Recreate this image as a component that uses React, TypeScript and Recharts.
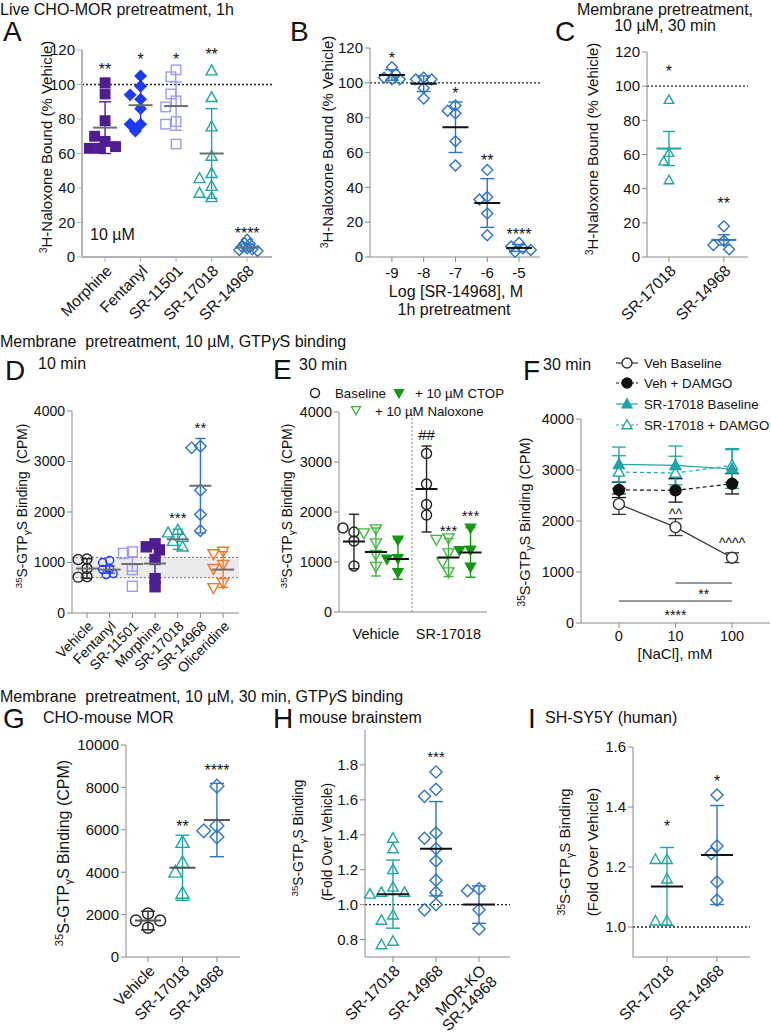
import React from 'react';
import { ComposedChart, Scatter, Line, XAxis, YAxis, ErrorBar, ReferenceLine, ReferenceArea } from 'recharts';

const FONT = '"Liberation Sans", Arial, Helvetica, sans-serif';

// ---------- data ----------
// A: live CHO-MOR, 1h, 10 µM
const aCats = ['Morphine', 'Fentanyl', 'SR-11501', 'SR-17018', 'SR-14968'];
const aVals = [
  [101, 94.5, 79, 67, 70, 63, 64, 63],
  [105, 99, 91.5, 94, 86, 77, 77, 73],
  [108.5, 104.5, 90.5, 94.5, 87, 78.5, 77, 65.5],
  [108, 92.5, 75.5, 58.5, 48.5, 45.5, 41, 37, 34.5],
  [10, 8, 7.5, 6, 5, 4.5, 4, 3.5],
];
const aMean = [75, 88, 87.5, 60, 5.5];
const aSD = [15, 11, 14, 26, 2];
const aStars = ['**', '*', '*', '**', '****'];
const aStarY = [111, 117, 117, 119.5, 16];

// B: SR-14968 concentration response, 1h
const bLogConc = [-9, -8, -7, -6, -5];
const bVals = [
  [109, 102, 103, 105, 102],
  [103, 102, 102, 97, 91],
  [87, 82.5, 84, 66.5, 52.5],
  [50, 34.5, 33, 25, 12.5],
  [8, 6, 5, 4, 3],
];
const bMean = [104.5, 99.5, 74.5, 31, 5.2];
const bSD = [3, 4.5, 14.5, 14, 2];
const bStars = ['*', '', '*', '**', '****'];
const bStarY = [116.5, 0, 96.5, 57.5, 15.5];

// C: membrane, 10 µM, 30 min
const cCats = ['SR-17018', 'SR-14968'];
const cVals = [
  [92, 61, 56, 45],
  [18, 9.5, 7, 4.5],
];
const cMean = [63.5, 10];
const cSEM = [10, 3];
const cStars = ['*', '**'];
const cStarY = [111, 34];

// D: GTPγS, 10 min
const dCats = ['Vehicle', 'Fentanyl', 'SR-11501', 'Morphine', 'SR-17018', 'SR-14968', 'Oliceridine'];
const dVals = [
  [1070, 1060, 880, 720, 710],
  [1040, 1000, 880, 860, 780, 760],
  [1210, 1180, 860, 530],
  [1370, 1310, 1250, 1060, 680, 520],
  [1640, 1590, 1500, 1420, 1310],
  [3300, 3270, 2430, 1950, 1630],
  [1220, 1170, 960, 880, 600, 500],
];
const dMean = [880, 860, 970, 980, 1460, 2520, 860];
const dSD = [195, 70, 140, 450, 200, 935, 355];
const dStars = ['', '', '', '', '***', '**', ''];
const dStarY = [0, 0, 0, 0, 1970, 3735, 0];

// E: GTPγS, 30 min, antagonists
const eGroups = ['Vehicle', 'SR-17018'];
const eBaseline = [[1600, 1680, 1420, 920], [3170, 2560, 2150, 1940]];
const eNaloxone = [[1660, 1580, 1380, 1150, 910], [1480, 1450, 1180, 1000, 800]];
const eCTOP = [[1440, 1070, 1060, 790], [1680, 1240, 1230, 900]];
const eBaselineMean = [1410, 2460];
const eBaselineSD = [545, 860];
const eNaloxoneMean = [1200, 1090];
const eNaloxoneSD = [480, 380];
const eCTOPMean = [1060, 1190];
const eCTOPSD = [405, 495];

// F: NaCl dependence
const fNaCl = ['0', '10', '100'];
const fVehBase = [2330, 1880, 1280];
const fVehBaseErr = [200, 165, 95];
const fVehDamgo = [2610, 2600, 2730];
const fVehDamgoErr = [150, 230, 200];
const fSrBase = [3110, 3090, 3020];
const fSrBaseErr = [340, 380, 380];
const fSrDamgo = [2960, 2940, 3090];
const fSrDamgoErr = [320, 330, 330];

// G: CHO-mouse MOR
const gCats = ['Vehicle', 'SR-17018', 'SR-14968'];
const gVals = [
  [2050, 1720, 1720, 1380],
  [5400, 4450, 4000, 3000],
  [8060, 6190, 5950, 5670],
];
const gMean = [1720, 4210, 6460];
const gSD = [440, 1535, 1730];
const gStars = ['', '**', '****'];
const gStarY = [0, 6350, 9000];

// H: mouse brainstem
const hCats = ['SR-17018', 'SR-14968', 'MOR-KO SR-14968'];
const hVals = [
  [1.38, 1.32, 1.2, 1.1, 1.07, 1.07, 1.06, 0.94, 0.91, 0.79, 0.77],
  [1.76, 1.66, 1.62, 1.41, 1.38, 1.32, 1.25, 1.14, 1.07, 1.0, 0.97],
  [1.09, 1.08, 0.97, 0.86],
];
const hMean = [1.06, 1.32, 1.0];
const hSD = [0.195, 0.27, 0.107];

// I: SH-SY5Y (human)
const iCats = ['SR-17018', 'SR-14968'];
const iVals = [
  [1.225, 1.225, 1.16, 1.02, 1.02],
  [1.44, 1.27, 1.245, 1.15, 1.09],
];
const iMean = [1.135, 1.24];
const iSD = [0.13, 0.165];
const iStarY = [1.35, 1.5];

// ---------- colours ----------
const PURPLE = '#4f1d91';
const BLUE = '#1c3cf2';
const LAVENDER = '#9b9bf0';
const TEAL = '#1fa5a5';
const STEEL = '#2d74c2';
const ORANGE = '#ff7420';
const GREEN = '#119a11';
const LGREEN = '#3db83d';
const INK = '#111';

type Kind = 'square' | 'diamond' | 'tri' | 'itri' | 'circle';
type Box = { x0: number; x1: number; yTop: number; yBot: number; xDomain: [number, number]; yDomain: [number, number] };
type Group = {
  cat: number; vals: number[]; mean: number; err: number; kind: Kind; color: string;
  open?: boolean; size?: number; meanColor?: string; meanHalf?: number; capHalf?: number; spread?: number;
};
type Note = { x: number; y: number; t: string };

function Marker({ cx, cy, kind, color, open, size, solidFill }: any) {
  const s = size / 2;
  const p = { stroke: color, strokeWidth: 1.4, fill: open ? (solidFill ? '#fff' : 'none') : color };
  if (kind === 'square') return <rect x={cx - s} y={cy - s} width={size} height={size} {...p} />;
  if (kind === 'circle') return <circle cx={cx} cy={cy} r={s} {...p} />;
  if (kind === 'diamond') {
    const d = s * 1.15;
    return <polygon points={`${cx},${cy - d} ${cx + d},${cy} ${cx},${cy + d} ${cx - d},${cy}`} {...p} />;
  }
  if (kind === 'tri') return <polygon points={`${cx},${cy - s * 1.05} ${cx + s},${cy + s * 0.75} ${cx - s},${cy + s * 0.75}`} {...p} />;
  return <polygon points={`${cx},${cy + s * 1.05} ${cx + s},${cy - s * 0.75} ${cx - s},${cy - s * 0.75}`} {...p} />;
}

// simple beeswarm: spread overlapping points sideways
function swarm(vals: number[], cat: number, pxY: number, pxX: number, size: number) {
  const placed: { dx: number; py: number }[] = [];
  return vals.map((v) => {
    const py = v * pxY;
    let dx = 0;
    for (let k = 0; k < 14; k++) {
      const c = k === 0 ? 0 : (k % 2 ? -1 : 1) * Math.ceil(k / 2) * size * 0.55;
      if (!placed.some((q) => Math.hypot(q.dx - c, q.py - py) < size * 0.9)) { dx = c; break; }
    }
    placed.push({ dx, py });
    return { x: cat + dx / pxX, y: v };
  });
}

function groupEls(g: Group, box: Box, key: string) {
  const pxY = (box.yBot - box.yTop) / (box.yDomain[1] - box.yDomain[0]);
  const pxX = (box.x1 - box.x0) / (box.xDomain[1] - box.xDomain[0]);
  const size = g.size ?? 10;
  const pts = swarm(g.vals, g.cat, pxY, pxX, size * (g.spread ?? 1));
  const mh = g.meanHalf ?? 12;
  return [
    <Scatter key={key + 'p'} data={pts} dataKey="y" isAnimationActive={false}
      shape={(p: any) => <Marker cx={p.cx} cy={p.cy} kind={g.kind} color={g.color} open={g.open} size={size} />} />,
    <Scatter key={key + 'm'} data={[{ x: g.cat, y: g.mean, e: g.err }]} dataKey="y" isAnimationActive={false}
      shape={(p: any) => <line x1={p.cx - mh} x2={p.cx + mh} y1={p.cy} y2={p.cy} stroke={g.meanColor ?? INK} strokeWidth={2} />}>
      <ErrorBar dataKey="e" direction="y" width={g.capHalf ?? 6} stroke={g.color} strokeWidth={1.4} />
    </Scatter>,
  ];
}

const glyphDy = (t: string) => (t[0] === '*' ? '0.6em' : t[0] === '^' ? '0.5em' : '0.36em');

function noteEls(notes: Note[], key: string, fs = 15) {
  return (
    <Scatter key={key} data={notes.filter((n) => n.t)} dataKey="y" isAnimationActive={false}
      shape={(p: any) => (
        <text x={p.cx} y={p.cy} dy={glyphDy(p.payload.t)} textAnchor="middle" fontSize={fs} fontFamily={FONT} fill={INK}>
          {p.payload.t}
        </text>
      )} />
  );
}

// slanted category labels: the axis rotates them (XAxis angle), these are the text props
const slant = (fs: number, wrap?: number) => ({
  textAnchor: 'end', fontSize: fs, fill: INK, fontFamily: FONT, ...(wrap ? { width: wrap } : {}),
});

const YW = 70, MT = 30, MR = 8, XH = 100;

function Panel({ box, yTicks, xTicks, xTick, yFmt, xFmt, angle = 0, axis = '#8a8a8a', axisW = 1, tickFs = 14.5, xTickLine = true, xMargin = 2, children }: any) {
  const w = box.x1 - box.x0 + YW + MR;
  const h = box.yBot - box.yTop + MT + XH;
  return (
    <div style={{ position: 'absolute', left: box.x0 - YW, top: box.yTop - MT }}>
      <ComposedChart width={w} height={h} margin={{ top: MT, right: MR, left: 0, bottom: 0 }}>
        <XAxis type="number" dataKey="x" domain={box.xDomain} ticks={xTicks} interval={0} height={XH} angle={angle}
          tick={xTick ?? { fontSize: tickFs, fill: INK, fontFamily: FONT }} tickFormatter={xFmt} tickMargin={xMargin}
          tickLine={xTickLine ? { stroke: axis } : false} axisLine={{ stroke: axis, strokeWidth: axisW }} tickSize={5} />
        <YAxis type="number" dataKey="y" domain={box.yDomain} ticks={yTicks} interval={0} width={YW}
          tickFormatter={yFmt} tick={{ fontSize: tickFs, fill: INK, fontFamily: FONT }}
          tickLine={{ stroke: axis }} axisLine={{ stroke: axis, strokeWidth: axisW }} tickSize={5} />
        {children}
      </ComposedChart>
    </div>
  );
}

const dotted = { stroke: '#222', strokeDasharray: '2 2', strokeWidth: 1.4 };
const catFmt = (names: string[]) => (v: number) => names[Math.round(v)] ?? '';

// ---------- panel boxes (page pixels) ----------
const boxA: Box = { x0: 82, x1: 272, yTop: 50, yBot: 257, xDomain: [-0.65, 4.7], yDomain: [0, 120] };
const boxB: Box = { x0: 370, x1: 540, yTop: 48, yBot: 257, xDomain: [-9.69, -4.34], yDomain: [0, 120] };
const boxC: Box = { x0: 647, x1: 748, yTop: 52, yBot: 257, xDomain: [-0.4, 1.44], yDomain: [0, 120] };
const boxD: Box = { x0: 72, x1: 239, yTop: 411, yBot: 613, xDomain: [-0.66, 6.7], yDomain: [0, 4000] };
const boxE: Box = { x0: 339, x1: 487, yTop: 412, yBot: 612, xDomain: [-0.68, 6.05], yDomain: [0, 4000] };
const boxF: Box = { x0: 581, x1: 770, yTop: 419, yBot: 623, xDomain: [-0.67, 2.67], yDomain: [0, 4000] };
const boxG: Box = { x0: 126, x1: 240, yTop: 745, yBot: 957, xDomain: [-0.64, 2.67], yDomain: [0, 10000] };
const boxH: Box = { x0: 365, x1: 510, yTop: 730, yBot: 957, xDomain: [-0.65, 2.72], yDomain: [0.7, 2.0] };
const boxI: Box = { x0: 633, x1: 750, yTop: 747, yBot: 957, xDomain: [-0.68, 1.66], yDomain: [0.9, 1.6] };

const eSlots = [[0, 1, 2], [3.3, 4.3, 5.3]];

function PanelA() {
  const kinds: Kind[] = ['square', 'diamond', 'square', 'tri', 'diamond'];
  const colors = [PURPLE, BLUE, LAVENDER, TEAL, STEEL];
  const open = [false, false, true, true, true];
  const groups = aVals.map((vals, i) => groupEls({
    cat: i, vals, mean: aMean[i], err: aSD[i], kind: kinds[i], color: colors[i], open: open[i],
    size: kinds[i] === 'tri' ? 11 : 9.5, meanColor: '#6e6e6e', meanHalf: 12, capHalf: 6, spread: i === 4 ? 0.5 : 1,
  }, boxA, 'a' + i));
  return (
    <Panel box={boxA} yTicks={[0, 20, 40, 60, 80, 100, 120]} xTicks={[0, 1, 2, 3, 4]} angle={-45} xTick={slant(15.5)} xFmt={catFmt(aCats)}
      axis="#b4b4b4" axisW={2} tickFs={15}>
      <ReferenceLine y={100} {...dotted} />
      {groups}
      {noteEls(aStars.map((t, i) => ({ x: i, y: aStarY[i], t })), 'an', 16)}
    </Panel>
  );
}

function PanelB() {
  const groups = bVals.map((vals, i) => groupEls({
    cat: bLogConc[i], vals, mean: bMean[i], err: bSD[i], kind: 'diamond', color: STEEL, open: true,
    size: 9.5, meanColor: INK, meanHalf: 13, capHalf: 7, spread: 0.75,
  }, boxB, 'b' + i));
  return (
    <Panel box={boxB} yTicks={[0, 20, 40, 60, 80, 100, 120]} xTicks={bLogConc} tickFs={15} xMargin={5}>
      <ReferenceLine y={100} {...dotted} />
      {groups}
      {noteEls(bStars.map((t, i) => ({ x: bLogConc[i], y: bStarY[i], t })), 'bn', 16)}
    </Panel>
  );
}

function PanelC() {
  const kinds: Kind[] = ['tri', 'diamond'];
  const colors = [TEAL, STEEL];
  const groups = cVals.map((vals, i) => groupEls({
    cat: i, vals, mean: cMean[i], err: cSEM[i], kind: kinds[i], color: colors[i], open: true,
    size: 9.5, meanColor: colors[i], meanHalf: 12.5, capHalf: 6,
  }, boxC, 'c' + i));
  return (
    <Panel box={boxC} yTicks={[0, 20, 40, 60, 80, 100, 120]} xTicks={[0, 1]} angle={-45} xTick={slant(15.5)} xFmt={catFmt(cCats)} tickFs={15}>
      <ReferenceLine y={100} {...dotted} />
      {groups}
      {noteEls(cStars.map((t, i) => ({ x: i, y: cStarY[i], t })), 'cn', 16)}
    </Panel>
  );
}

function PanelD() {
  const kinds: Kind[] = ['circle', 'circle', 'square', 'square', 'tri', 'diamond', 'itri'];
  const colors = ['#222', BLUE, LAVENDER, PURPLE, TEAL, STEEL, ORANGE];
  const open = [true, true, true, false, true, true, true];
  const sizes = [10, 8, 10, 10, 11, 10, 11];
  const groups = dVals.map((vals, i) => groupEls({
    cat: i, vals, mean: dMean[i], err: dSD[i], kind: kinds[i], color: colors[i], open: open[i],
    size: sizes[i], meanColor: '#6e6e6e', meanHalf: 11, capHalf: 5, spread: 0.8,
  }, boxD, 'd' + i));
  return (
    <Panel box={boxD} yTicks={[0, 1000, 2000, 3000, 4000]} xTicks={[0, 1, 2, 3, 4, 5, 6]} angle={-45} xTick={slant(14)} xFmt={catFmt(dCats)} tickFs={14}>
      <ReferenceArea y1={700} y2={1100} fill="#ebebeb" fillOpacity={1} stroke="none" />
      <ReferenceLine y={700} stroke="#777" strokeDasharray="2 2" />
      <ReferenceLine y={1100} stroke="#777" strokeDasharray="2 2" />
      {groups}
      {noteEls(dStars.map((t, i) => ({ x: i, y: dStarY[i], t })), 'dn', 15)}
    </Panel>
  );
}

function PanelE() {
  const els: any[] = [];
  eGroups.forEach((_, gi) => {
    els.push(...groupEls({ cat: eSlots[gi][0], vals: eBaseline[gi], mean: eBaselineMean[gi], err: eBaselineSD[gi], kind: 'circle', color: '#222', open: true, size: 10, meanHalf: 11, capHalf: 5 }, boxE, `e${gi}b`));
    els.push(...groupEls({ cat: eSlots[gi][1], vals: eNaloxone[gi], mean: eNaloxoneMean[gi], err: eNaloxoneSD[gi], kind: 'itri', color: LGREEN, open: true, size: 11, meanHalf: 11, capHalf: 5 }, boxE, `e${gi}n`));
    els.push(...groupEls({ cat: eSlots[gi][2], vals: eCTOP[gi], mean: eCTOPMean[gi], err: eCTOPSD[gi], kind: 'itri', color: GREEN, open: false, size: 10, meanHalf: 11, capHalf: 5 }, boxE, `e${gi}c`));
  });
  const notes: Note[] = [
    { x: eSlots[1][0], y: 3550, t: '##' },
    { x: eSlots[1][1], y: 1710, t: '***' },
    { x: eSlots[1][2], y: 2010, t: '***' },
  ];
  return (
    <Panel box={boxE} yTicks={[0, 1000, 2000, 3000, 4000]} xTicks={[1, 4.3]} xFmt={(v: number) => (v < 2.5 ? eGroups[0] : eGroups[1])}
      xTickLine={false} tickFs={14.5} xMargin={12}>
      <ReferenceLine x={2.64} stroke="#888" strokeDasharray="2 2" />
      {els}
      {noteEls(notes, 'en', 15)}
    </Panel>
  );
}

function lineEl(key: string, vals: number[], errs: number[], color: string, dashed: boolean, kind: Kind, open: boolean) {
  const data = vals.map((v, i) => ({ x: i, y: v, e: errs[i] }));
  return (
    <Line key={key} data={data} dataKey="y" type="linear" stroke={color} strokeWidth={1.2}
      strokeDasharray={dashed ? '4 3' : undefined} isAnimationActive={false}
      dot={(p: any) => <Marker key={`${key}${p.index}`} cx={p.cx} cy={p.cy} kind={kind} color={color} open={open} solidFill size={11} />}>
      <ErrorBar dataKey="e" direction="y" width={7} stroke={color} strokeWidth={1.3} />
    </Line>
  );
}

function PanelF() {
  const notes: Note[] = [
    { x: 1, y: 2180, t: '^^' },
    { x: 2, y: 1607, t: '^^^^' },
    { x: 1.5, y: 627, t: '**' },
    { x: 1, y: 216, t: '****' },
  ];
  return (
    <Panel box={boxF} yTicks={[0, 1000, 2000, 3000, 4000]} xTicks={[0, 1, 2]} xFmt={(v: number) => fNaCl[v]} tickFs={14.5} xMargin={3}>
      <ReferenceLine segment={[{ x: 1, y: 784 }, { x: 2, y: 784 }]} stroke="#333" />
      <ReferenceLine segment={[{ x: 0, y: 431 }, { x: 2, y: 431 }]} stroke="#333" />
      {lineEl('fvb', fVehBase, fVehBaseErr, '#333', false, 'circle', true)}
      {lineEl('fvd', fVehDamgo, fVehDamgoErr, '#111', true, 'circle', false)}
      {lineEl('fsd', fSrDamgo, fSrDamgoErr, TEAL, true, 'tri', true)}
      {lineEl('fsb', fSrBase, fSrBaseErr, TEAL, false, 'tri', false)}
      {noteEls(notes, 'fn', 14)}
    </Panel>
  );
}

function PanelG() {
  const kinds: Kind[] = ['circle', 'tri', 'diamond'];
  const colors = ['#222', TEAL, STEEL];
  const sizes = [11, 13, 12];
  const groups = gVals.map((vals, i) => groupEls({
    cat: i, vals, mean: gMean[i], err: gSD[i], kind: kinds[i], color: colors[i], open: true,
    size: sizes[i], meanColor: '#555', meanHalf: 13, capHalf: 7,
  }, boxG, 'g' + i));
  return (
    <Panel box={boxG} yTicks={[0, 2000, 4000, 6000, 8000, 10000]} xTicks={[0, 1, 2]} angle={-45} xTick={slant(15.5)} xFmt={catFmt(gCats)} tickFs={15}>
      {groups}
      {noteEls(gStars.map((t, i) => ({ x: i, y: gStarY[i], t })), 'gn', 16)}
    </Panel>
  );
}

function PanelH() {
  const kinds: Kind[] = ['tri', 'diamond', 'diamond'];
  const colors = [TEAL, STEEL, STEEL];
  const groups = hVals.map((vals, i) => groupEls({
    cat: i, vals, mean: hMean[i], err: hSD[i], kind: kinds[i], color: colors[i], open: true,
    size: 10.5, meanColor: INK, meanHalf: 16, capHalf: 7,
  }, boxH, 'h' + i));
  return (
    <Panel box={boxH} yTicks={[0.8, 1.0, 1.2, 1.4, 1.6, 1.8]} yFmt={(v: number) => v.toFixed(1)} xTicks={[0, 1, 2]}
      angle={-45} xTick={slant(15.5, 75)} xFmt={catFmt(hCats)} tickFs={15}>
      <ReferenceLine y={1.0} {...dotted} />
      {groups}
      {noteEls([{ x: 1, y: 1.866, t: '***' }], 'hn', 15)}
    </Panel>
  );
}

function PanelI() {
  const kinds: Kind[] = ['tri', 'diamond'];
  const colors = [TEAL, STEEL];
  const groups = iVals.map((vals, i) => groupEls({
    cat: i, vals, mean: iMean[i], err: iSD[i], kind: kinds[i], color: colors[i], open: true,
    size: 10.5, meanColor: INK, meanHalf: 16, capHalf: 7,
  }, boxI, 'i' + i));
  return (
    <Panel box={boxI} yTicks={[1.0, 1.2, 1.4, 1.6]} yFmt={(v: number) => v.toFixed(1)} xTicks={[0, 1]}
      angle={-45} xTick={slant(15.5)} xFmt={catFmt(iCats)} tickFs={15}>
      <ReferenceLine y={1.0} {...dotted} />
      {groups}
      {noteEls(iStarY.map((y, i) => ({ x: i, y, t: '*' })), 'in', 16)}
    </Panel>
  );
}

// ---------- text overlay ----------
function T({ x, y, fs = 16, anchor = 'start', children }: any) {
  return <text x={x} y={y} fontSize={fs} fontFamily={FONT} fill={INK} textAnchor={anchor}>{children}</text>;
}

function VLabel({ cx, cy, fs, children }: any) {
  return (
    <text transform={`translate(${cx},${cy}) rotate(-90)`} x={0} y={fs * 0.35} textAnchor="middle" fontSize={fs} fontFamily={FONT} fill={INK}>
      {children}
    </text>
  );
}

const naloxLabel = (fs: number) => [
  <tspan key="a" fontSize={fs * 0.7} dy={-fs * 0.38}>3</tspan>,
  <tspan key="b" dy={fs * 0.38}>H-Naloxone Bound (% Vehicle)</tspan>,
];

const gtpLabel = (fs: number, tail: string) => [
  <tspan key="a" fontSize={fs * 0.7} dy={-fs * 0.38}>35</tspan>,
  <tspan key="b" dy={fs * 0.38}>S-GTP</tspan>,
  <tspan key="c" fontSize={fs * 0.72} dy={fs * 0.22}>γ</tspan>,
  <tspan key="d" dy={-fs * 0.22}>{'S Binding' + tail}</tspan>,
];

function Overlay() {
  const L = 28;
  const LG = 13.3;
  return (
    <svg width={771} height={1033} style={{ position: 'absolute', left: 0, top: 0, pointerEvents: 'none' }}>
      {/* row 1 */}
      <T x={0} y={15} fs={16}>Live CHO-MOR pretreatment, 1h</T>
      <T x={3} y={41} fs={L}>A</T>
      <T x={290} y={41} fs={L}>B</T>
      <T x={555} y={41} fs={L}>C</T>
      <T x={665} y={15} anchor="middle">Membrane pretreatment,</T>
      <T x={665} y={31} anchor="middle">10 µM, 30 min</T>
      <T x={90} y={240} fs={16}>10 µM</T>
      <VLabel cx={47} cy={147} fs={15}>{naloxLabel(15)}</VLabel>
      <VLabel cx={328} cy={142} fs={15}>{naloxLabel(15)}</VLabel>
      <VLabel cx={593} cy={149} fs={15}>{naloxLabel(15)}</VLabel>
      <T x={456} y={297} anchor="middle">Log [SR-14968], M</T>
      <T x={454} y={315} anchor="middle">1h pretreatment</T>

      {/* row 2 */}
      <T x={0} y={347}>{'Membrane\u00a0 pretreatment, 10 µM, GTP'}<tspan fontStyle="italic">γ</tspan>S binding</T>
      <T x={5} y={380} fs={L}>D</T>
      <T x={38} y={369}>10 min</T>
      <T x={273} y={379} fs={L}>E</T>
      <T x={299} y={370}>30 min</T>
      <T x={523} y={380} fs={L}>F</T>
      <T x={543} y={370}>30 min</T>
      <VLabel cx={22} cy={506} fs={13.8}>{gtpLabel(13.8, '\u00a0 (CPM)')}</VLabel>
      <VLabel cx={287} cy={506} fs={13.8}>{gtpLabel(13.8, '\u00a0 (CPM)')}</VLabel>
      <VLabel cx={525} cy={522} fs={14.5}>{gtpLabel(14.5, ' (CPM)')}</VLabel>

      {/* E legend */}
      <Marker cx={315} cy={393} kind="circle" color="#222" open size={9} />
      <T x={335} y={398} fs={LG}>Baseline</T>
      <Marker cx={399} cy={393} kind="itri" color={GREEN} size={9} />
      <T x={415} y={398} fs={LG}>+ 10 µM CTOP</T>
      <Marker cx={356} cy={410} kind="itri" color={LGREEN} open size={9} />
      <T x={375} y={416} fs={LG}>+ 10 µM Naloxone</T>

      {/* F legend */}
      {[
        { y: 363, c: '#333', d: false, k: 'circle', o: true, s: 'Veh Baseline' },
        { y: 383, c: '#111', d: true, k: 'circle', o: false, s: 'Veh + DAMGO' },
        { y: 404, c: TEAL, d: false, k: 'tri', o: false, s: 'SR-17018 Baseline' },
        { y: 425, c: TEAL, d: true, k: 'tri', o: true, s: 'SR-17018 + DAMGO' },
      ].map((r) => (
        <g key={r.s}>
          <line x1={616} x2={638} y1={r.y} y2={r.y} stroke={r.c} strokeWidth={1.2} strokeDasharray={r.d ? '3 2' : undefined} />
          <Marker cx={627} cy={r.y} kind={r.k} color={r.c} open={r.o} solidFill size={10} />
          <T x={644} y={r.y + 5} fs={LG}>{r.s}</T>
        </g>
      ))}
      <T x={675} y={659} anchor="middle" fs={15}>[NaCl], mM</T>

      {/* row 3 */}
      <T x={0} y={702}>{'Membrane\u00a0 pretreatment, 10 µM, 30 min, GTP'}<tspan fontStyle="italic">γ</tspan>S binding</T>
      <T x={3} y={728} fs={L}>G</T>
      <T x={43} y={723}>CHO-mouse MOR</T>
      <T x={273} y={728} fs={L}>H</T>
      <T x={299} y={723}>mouse brainstem</T>
      <T x={528} y={728} fs={L}>I</T>
      <T x={545} y={723}>SH-SY5Y (human)</T>
      <VLabel cx={63} cy={853} fs={16}>{gtpLabel(16, ' (CPM)')}</VLabel>
      <VLabel cx={298} cy={838} fs={13.8}>{gtpLabel(13.8, '')}</VLabel>
      <VLabel cx={327} cy={842} fs={13.8}>(Fold Over Vehicle)</VLabel>
      <VLabel cx={565} cy={852} fs={15}>{gtpLabel(15, '')}</VLabel>
      <VLabel cx={593} cy={852} fs={15}>(Fold Over Vehicle)</VLabel>
    </svg>
  );
}

export default function App() {
  return (
    <div style={{ position: 'absolute', left: 0, top: 0, width: 771, height: 1033, overflow: 'hidden', background: '#fff', fontFamily: FONT }}>
      <PanelA />
      <PanelB />
      <PanelC />
      <PanelD />
      <PanelE />
      <PanelF />
      <PanelG />
      <PanelH />
      <PanelI />
      <Overlay />
    </div>
  );
}
